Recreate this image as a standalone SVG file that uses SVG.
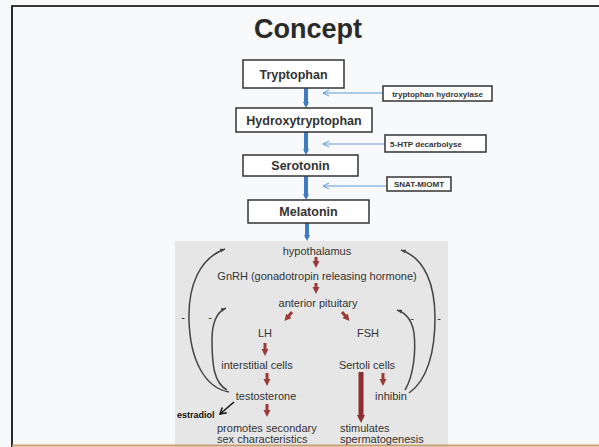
<svg xmlns="http://www.w3.org/2000/svg" width="599" height="447" viewBox="0 0 599 447">
<style>
.box{fill:#fff;stroke:#333;stroke-width:1.5}
.bt{font-family:"Liberation Sans",Arial,sans-serif;font-weight:bold;font-size:12.5px;fill:#333;text-anchor:middle}
.et{font-family:"Liberation Sans",Arial,sans-serif;font-weight:bold;font-size:8px;fill:#333;text-anchor:middle}
.gt{font-family:"Liberation Sans",Arial,sans-serif;font-size:11px;fill:#333}
.mid{text-anchor:middle}
.blue{stroke:#3d7cc0;stroke-width:4;fill:none}
.thin{stroke:#5b9bd5;stroke-width:1;fill:none}
.red{stroke:#9b3b38;stroke-width:3;fill:none}
.fb{stroke:#444;stroke-width:1.5;fill:none}
</style>
<defs>
<marker id="ab" markerWidth="6" markerHeight="7" refX="3" refY="3.5" orient="auto" markerUnits="userSpaceOnUse"><path d="M0,0.5 L6,3.5 L0,6.5 z" fill="#3d7cc0"/></marker>
<marker id="at" markerWidth="8" markerHeight="8" refX="7" refY="4" orient="auto" markerUnits="userSpaceOnUse"><path d="M1,1 L7,4 L1,7" fill="none" stroke="#5b9bd5" stroke-width="1"/></marker>
<marker id="ar" markerWidth="8" markerHeight="8" refX="3" refY="4" orient="auto" markerUnits="userSpaceOnUse"><path d="M0,0.5 L7,4 L0,7.5 z" fill="#9b3b38"/></marker>
<marker id="ar2" markerWidth="10" markerHeight="10" refX="3" refY="5" orient="auto" markerUnits="userSpaceOnUse"><path d="M0,1 L8,5 L0,9 z" fill="#8e2f2f"/></marker>
<marker id="af" markerWidth="6" markerHeight="6" refX="5" refY="3" orient="auto" markerUnits="userSpaceOnUse"><path d="M0,1 L5,3 L0,5 z" fill="#444"/></marker>
<marker id="ak" markerWidth="8" markerHeight="8" refX="7" refY="4" orient="auto" markerUnits="userSpaceOnUse"><path d="M1,0.5 L7,4 L1,7.5" fill="none" stroke="#111" stroke-width="1.5"/></marker>
</defs>
<rect x="0" y="0" width="599" height="447" fill="#f8f9fb"/>
<g id="frame">
<line x1="11" y1="6" x2="599" y2="6" stroke="#3a3630" stroke-width="2"/>
<line x1="12" y1="6" x2="12" y2="447" stroke="#2a2a2a" stroke-width="2"/>
</g>
<rect x="175" y="241" width="273" height="206" fill="#e6e6e6"/>
<line x1="12" y1="445.5" x2="599" y2="445.5" stroke="#c8a074" stroke-width="2"/>
<text x="308" y="38" font-family="'Liberation Sans',Arial,sans-serif" font-weight="bold" font-size="27" fill="#2a2a2a" text-anchor="middle">Concept</text>

<g id="connectors">
<line class="blue" x1="306" y1="88" x2="306" y2="105" marker-end="url(#ab)"/>
<line class="blue" x1="306" y1="132" x2="306" y2="152" marker-end="url(#ab)"/>
<line class="blue" x1="306" y1="176" x2="306" y2="197" marker-end="url(#ab)"/>
<line class="blue" x1="307" y1="223" x2="307" y2="238" marker-end="url(#ab)"/>
<line class="thin" x1="383" y1="93" x2="323" y2="93" marker-end="url(#at)"/>
<line class="thin" x1="385" y1="144" x2="323" y2="144" marker-end="url(#at)"/>
<line class="thin" x1="387" y1="186" x2="323" y2="186" marker-end="url(#at)"/>
<line class="red" x1="316" y1="257" x2="316" y2="264" marker-end="url(#ar)"/>
<line class="red" x1="316" y1="283" x2="316" y2="290" marker-end="url(#ar)"/>
<line class="red" x1="292" y1="312" x2="287" y2="318" marker-end="url(#ar)"/>
<line class="red" x1="342" y1="312" x2="347" y2="318" marker-end="url(#ar)"/>
<line class="red" x1="265" y1="343" x2="265" y2="352" marker-end="url(#ar)"/>
<line class="red" x1="267" y1="373" x2="267" y2="382" marker-end="url(#ar)"/>
<line class="red" x1="267" y1="404" x2="267" y2="413" marker-end="url(#ar)"/>
<line class="red" x1="383" y1="373" x2="383" y2="382" marker-end="url(#ar)"/>
<line x1="361" y1="372" x2="361" y2="418" stroke="#8e2f2f" stroke-width="5" marker-end="url(#ar2)"/>
<line x1="234" y1="402" x2="220" y2="414" stroke="#111" stroke-width="1.5" marker-end="url(#ak)"/>
<path class="fb" d="M229,392 C205,388 190,360 189,320 C188,285 200,258 225,249" marker-end="url(#af)"/>
<path class="fb" d="M227,390 C214,383 212,365 212,340 C212,322 217,312 226,308" marker-end="url(#af)"/>
<path class="fb" d="M409,393 C428,380 435,350 435,318 C435,285 425,258 401,250" marker-end="url(#af)"/>
<path class="fb" d="M405,390 C414,375 416,350 414,333 C412,320 406,313 397,310" marker-end="url(#af)"/>
</g>

<g id="tryptophan"><rect class="box" x="243" y="60" width="101" height="28"/><text class="bt" x="293.5" y="79">Tryptophan</text></g>
<g id="hydroxytryptophan"><rect class="box" x="236" y="108" width="136" height="24"/><text class="bt" x="304" y="125">Hydroxytryptophan</text></g>
<g id="serotonin"><rect class="box" x="243" y="155" width="115" height="21"/><text class="bt" x="300.5" y="170">Serotonin</text></g>
<g id="melatonin"><rect class="box" x="248" y="200" width="121" height="23"/><text class="bt" x="308.5" y="216">Melatonin</text></g>

<g id="tryptophan-hydroxylase"><rect class="box" x="383" y="86" width="109" height="15" stroke-width="1.2"/><text class="et" x="437.5" y="96.5">tryptophan hydroxylase</text></g>
<g id="htp-decarbolyse"><rect class="box" x="385" y="135" width="101" height="17" stroke-width="1.2"/><text class="et" x="426" y="146.5">5-HTP decarbolyse</text></g>
<g id="snat-miomt"><rect class="box" x="387" y="177" width="64" height="14" stroke-width="1.2"/><text class="et" x="419" y="187">SNAT-MIOMT</text></g>

<g id="hypothalamus"><text class="gt mid" x="317" y="255">hypothalamus</text></g>
<g id="gnrh"><text class="gt mid" x="317" y="280">GnRH (gonadotropin releasing hormone)</text></g>
<g id="anterior-pituitary"><text class="gt mid" x="318" y="307">anterior pituitary</text></g>
<g id="lh"><text class="gt mid" x="265" y="337">LH</text></g>
<g id="fsh"><text class="gt mid" x="368" y="337">FSH</text></g>
<g id="interstitial"><text class="gt mid" x="257" y="369">interstitial cells</text></g>
<g id="sertoli"><text class="gt mid" x="367" y="369">Sertoli cells</text></g>
<g id="testosterone"><text class="gt mid" x="266" y="400">testosterone</text></g>
<g id="inhibin"><text class="gt mid" x="391" y="400">inhibin</text></g>
<g id="estradiol"><text x="177" y="418" font-family="'Liberation Sans',Arial,sans-serif" font-weight="bold" font-size="9" fill="#111">estradiol</text></g>
<g id="promotes"><text class="gt" x="217" y="432">promotes secondary</text><text class="gt" x="217" y="443">sex characteristics</text></g>
<g id="stimulates"><text class="gt" x="340" y="432">stimulates</text><text class="gt" x="340" y="443">spermatogenesis</text></g>
<g id="minus"><text class="gt mid" x="183" y="321">-</text><text class="gt mid" x="210" y="321">-</text><text class="gt mid" x="412" y="322">-</text><text class="gt mid" x="439" y="322">-</text></g>
</svg>
